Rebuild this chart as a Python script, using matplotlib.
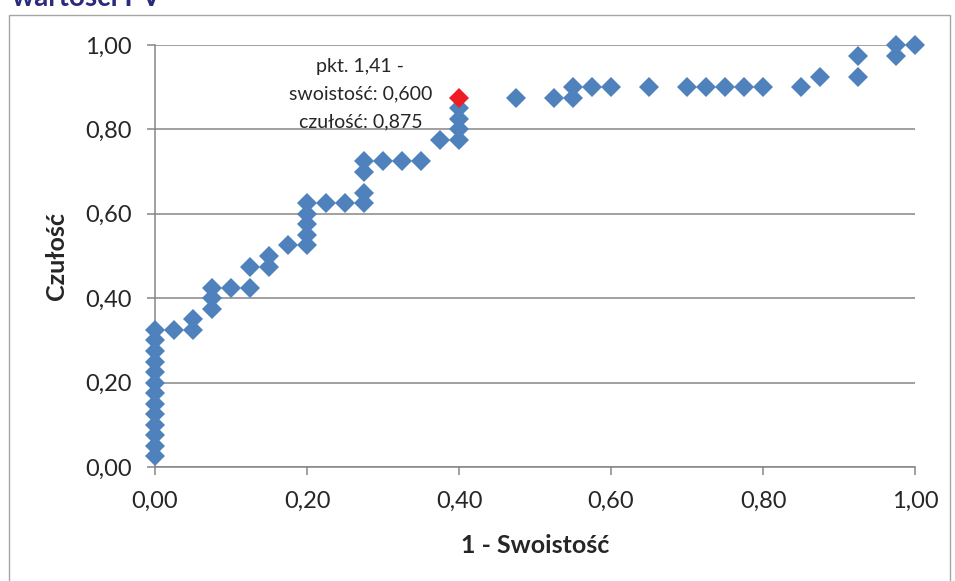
import matplotlib
matplotlib.use("Agg")
import matplotlib.pyplot as plt
from matplotlib.patches import Rectangle
from matplotlib.ticker import FuncFormatter, MultipleLocator

# ROC points: 1 - specificity (x) vs sensitivity (y)
fpr = [0.0] * 13 + [
    0.025,
    0.05, 0.05,
    0.075, 0.075, 0.075,
    0.10,
    0.125, 0.125,
    0.15, 0.15,
    0.175,
    0.20, 0.20, 0.20, 0.20, 0.20,
    0.225, 0.25,
    0.275, 0.275, 0.275, 0.275,
    0.30, 0.325, 0.35, 0.375,
    0.40, 0.40, 0.40, 0.40,
    0.475, 0.525, 0.55, 0.55, 0.575, 0.60, 0.65, 0.70, 0.725, 0.75,
    0.775, 0.80, 0.85, 0.875, 0.925, 0.925, 0.975, 0.975, 1.0,
]
tpr = [0.025, 0.05, 0.075, 0.10, 0.125, 0.15, 0.175, 0.20, 0.225, 0.25,
       0.275, 0.30, 0.325] + [
    0.325,
    0.325, 0.35,
    0.375, 0.40, 0.425,
    0.425,
    0.425, 0.475,
    0.475, 0.50,
    0.525,
    0.525, 0.55, 0.575, 0.60, 0.625,
    0.625, 0.625,
    0.625, 0.65, 0.70, 0.725,
    0.725, 0.725, 0.725, 0.775,
    0.775, 0.80, 0.825, 0.85,
    0.875, 0.875, 0.875, 0.90, 0.90, 0.90, 0.90, 0.90, 0.90, 0.90,
    0.90, 0.90, 0.90, 0.925, 0.925, 0.975, 0.975, 1.0, 1.0,
]

# Selected cut-off point
cut_label = "1,41"
cut_specificity = 0.600
cut_sensitivity = 0.875

x_title = "1 - Swoistość"
y_title = "Czułość"
chart_title = "wartości PV"

W, H = 955, 581
fig = plt.figure(figsize=(W / 100, H / 100), dpi=100)
fig.patch.set_facecolor("white")

def fx(px):
    return px / W

def fy(py):
    return 1 - py / H

# Chart frame
fig.patches.append(Rectangle((fx(9), fy(600)), fx(950) - fx(9), fy(15) - fy(600),
                             transform=fig.transFigure, fill=False,
                             edgecolor="#A6A6A6", linewidth=1.0, zorder=0))

# Title (runs off the top edge)
fig.text(fx(12), fy(6), chart_title, color="#2B2B7E", fontsize=20,
         fontweight="bold", family="Lato", ha="left", va="baseline")

ax = fig.add_axes([fx(155), fy(467), fx(915) - fx(155), fy(45) - fy(467)])
ax.set_xlim(0, 1)
ax.set_ylim(0, 1)

grid_col = "#868686"
ax.yaxis.set_major_locator(MultipleLocator(0.2))
ax.xaxis.set_major_locator(MultipleLocator(0.2))
ax.grid(axis="y", color=grid_col, linewidth=1.1, zorder=1)
ax.set_axisbelow(True)
for s in ("top", "right"):
    ax.spines[s].set_visible(False)
for s in ("left", "bottom"):
    ax.spines[s].set_color(grid_col)
    ax.spines[s].set_linewidth(1.1)

fmt = FuncFormatter(lambda v, p: f"{v:.2f}".replace(".", ","))
ax.xaxis.set_major_formatter(fmt)
ax.yaxis.set_major_formatter(fmt)
ax.tick_params(axis="both", direction="out", length=6, width=1.1, color=grid_col,
               labelsize=17, labelcolor="#262626", pad=11)
for lab in ax.get_xticklabels() + ax.get_yticklabels():
    lab.set_family("Lato")

ax.set_xlabel(x_title, fontsize=18, fontweight="bold", family="Lato",
              color="#262626", labelpad=16)
ax.set_ylabel(y_title, fontsize=18, fontweight="bold", family="Lato",
              color="#262626", labelpad=12)

ax.plot(fpr, tpr, linestyle="none", marker="D", markersize=10.5,
        color="#4F81BD", markeredgewidth=0, clip_on=False, zorder=3)

cx = 1 - cut_specificity
ax.plot([cx], [cut_sensitivity], linestyle="none", marker="D", markersize=10.5,
        color="#EE1C25", markeredgewidth=0, clip_on=False, zorder=4)

spec_txt = f"{cut_specificity:.3f}".replace(".", ",")
sens_txt = f"{cut_sensitivity:.3f}".replace(".", ",")
label = f"pkt. {cut_label} -\nswoistość: {spec_txt}\nczułość: {sens_txt}"
ax.annotate(label, xy=(cx, cut_sensitivity), xytext=(-71, 2.5),
            textcoords="offset points", ha="center", va="center",
            multialignment="center", fontsize=14, family="Lato",
            color="#262626", linespacing=1.75, zorder=5)

fig.savefig("out.png", dpi=100, facecolor="white")
